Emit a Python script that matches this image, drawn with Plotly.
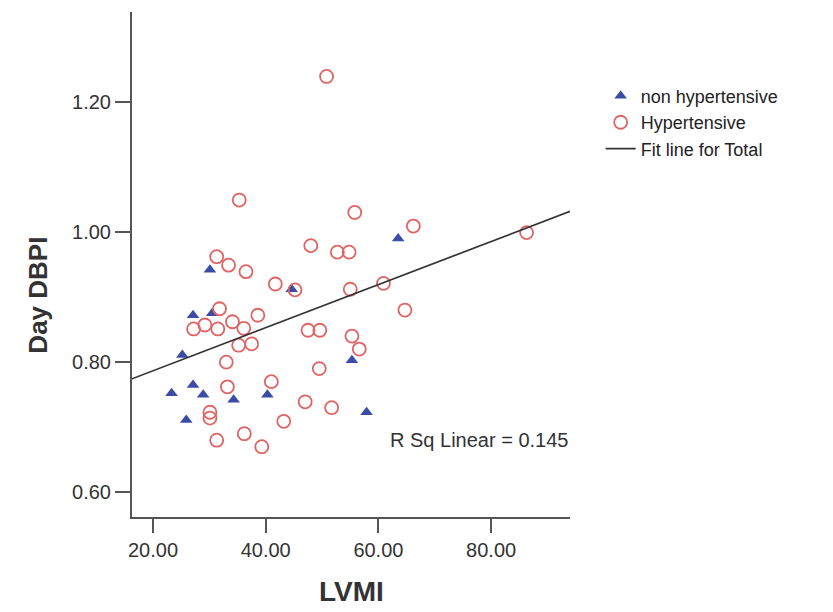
import plotly.graph_objects as go

# non hypertensive (blue triangles)
nonhyp_lvmi = [30.1, 44.6, 63.5, 27.1, 30.5, 25.2, 23.3, 27.1, 28.9, 34.3, 40.3, 25.9, 55.3, 57.9]
nonhyp_dbpi = [0.942, 0.912, 0.990, 0.872, 0.875, 0.811, 0.752, 0.765, 0.750, 0.742, 0.750, 0.711, 0.803, 0.723]

# Hypertensive (red open circles)
hyp_lvmi = [50.8, 35.3, 55.8, 66.2, 86.3, 48.0, 52.7, 54.8, 31.3, 33.4, 36.5, 41.7, 45.2, 55.0,
            60.9, 64.7, 31.8, 27.2, 29.2, 31.5, 34.1, 36.1, 38.6, 35.2, 37.5, 47.5, 49.6, 55.3,
            56.6, 33.0, 49.5, 41.0, 33.2, 47.0, 51.7, 30.1, 30.1, 43.2, 31.3, 36.2, 39.3]
hyp_dbpi = [1.239, 1.049, 1.030, 1.009, 0.999, 0.979, 0.969, 0.969, 0.962, 0.949, 0.939, 0.920, 0.911, 0.912,
            0.921, 0.880, 0.882, 0.851, 0.857, 0.851, 0.862, 0.852, 0.872, 0.826, 0.828, 0.849, 0.849, 0.840,
            0.820, 0.800, 0.790, 0.770, 0.762, 0.739, 0.730, 0.723, 0.714, 0.709, 0.680, 0.690, 0.670]

# fit line for total
fit_intercept = 0.7205
fit_slope = 0.00331
r_sq = 0.145

x_range = [16.27, 94.0]
y_range = [0.562, 1.338]
x_ticks = [20, 40, 60, 80]
x_ticktext = ["20.00", "40.00", "60.00", "80.00"]
y_ticks = [0.60, 0.80, 1.00, 1.20]
y_ticktext = ["0.60", "0.80", "1.00", "1.20"]

FONT = "Liberation Sans, Arial, sans-serif"

fig = go.Figure()
fig.add_trace(go.Scatter(
    x=nonhyp_lvmi, y=nonhyp_dbpi, mode="markers", name="non hypertensive",
    marker=dict(symbol="triangle-up", size=11, color="#3b4ca6", line=dict(width=0))))
fig.add_trace(go.Scatter(
    x=hyp_lvmi, y=hyp_dbpi, mode="markers", name="Hypertensive",
    marker=dict(symbol="circle-open", size=13, color="#e06464", line=dict(width=1.8))))
fx = [x_range[0], x_range[1]]
fy = [fit_intercept + fit_slope * v for v in fx]
fig.add_trace(go.Scatter(
    x=fx, y=fy, mode="lines", name="Fit line for Total",
    line=dict(color="#333333", width=1.7)))

fig.add_annotation(text=f"R Sq Linear = {r_sq:.3f}", xref="paper", yref="y",
                   x=1.0, y=0.680, xanchor="right", yanchor="middle", showarrow=False,
                   font=dict(family=FONT, size=20, color="#333333"))

# axis titles
fig.add_annotation(text="<b>Day DBPI</b>", xref="paper", yref="paper",
                   x=-0.215, y=0.44, xanchor="center", yanchor="middle", textangle=-90,
                   showarrow=False, font=dict(family=FONT, size=26, color="#333333"))
fig.add_annotation(text="<b>LVMI</b>", xref="paper", yref="paper",
                   x=0.5, y=-0.148, xanchor="center", yanchor="middle",
                   showarrow=False, font=dict(family=FONT, size=28, color="#333333"))

fig.update_layout(
    width=833, height=612,
    margin=dict(l=132, r=263, t=12, b=95),
    paper_bgcolor="white", plot_bgcolor="white",
    font=dict(family=FONT, color="#333333"),
    showlegend=True,
    legend=dict(x=1.07, y=0.87, xanchor="left", yanchor="top",
                font=dict(family=FONT, size=18, color="#222222"),
                bgcolor="rgba(0,0,0,0)", itemwidth=30, tracegroupgap=0),
    xaxis=dict(range=x_range, tickvals=x_ticks, ticktext=x_ticktext, automargin=False,
               showgrid=False, zeroline=False, showline=True, linecolor="#555555", linewidth=2,
               ticks="outside", ticklen=14, tickwidth=2, tickcolor="#555555",
               tickfont=dict(family=FONT, size=20, color="#333333")),
    yaxis=dict(range=y_range, tickvals=y_ticks, ticktext=y_ticktext, automargin=False,
               showgrid=False, zeroline=False, showline=True, linecolor="#555555", linewidth=2,
               ticks="outside", ticklen=15, tickwidth=2, tickcolor="#555555",
               tickfont=dict(family=FONT, size=20, color="#333333")),
)

fig.write_html("out.html")
